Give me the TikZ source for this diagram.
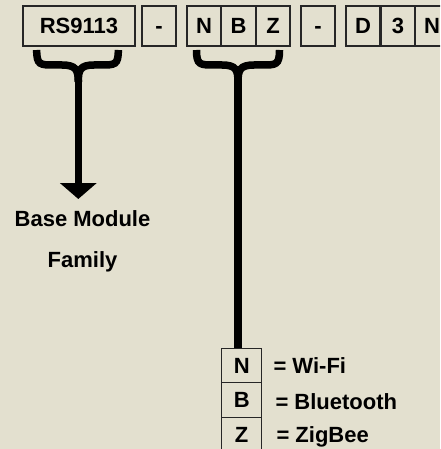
\documentclass[tikz,border=0pt]{standalone}
\usepackage{fontspec}
\setmainfont{Liberation Sans}
\usetikzlibrary{arrows.meta,positioning}
\definecolor{paper}{RGB}{227,224,207}
\tikzset{>={Triangle[width=36pt,length=16pt]},
  cell/.style={draw=black!85,line width=1.3pt,minimum width=34pt,minimum height=40pt,
    inner sep=0pt,text height=15.5pt,text depth=0pt,font=\bfseries\fontsize{22}{26}\selectfont},
  legcell/.style={cell,minimum width=40pt,minimum height=34.5pt},
  legtext/.style={inner sep=0pt,text depth=0pt,font=\bfseries\fontsize{22}{26}\selectfont},
  brace/.style={line width=7.5pt,line cap=butt}}

\begin{document}
\begin{tikzpicture}[x=1pt,y=-1pt]
    \useasboundingbox (0,0) rectangle (440,449);
    \clip (0,0) rectangle (440,449);
    \fill[paper] (0,0) rectangle (440,449);
    % part number
    \node[cell,minimum width=112pt] (rs) at (79,26) {RS9113};
    \node[cell] (dashA) at (159,26) {-};
    \foreach \c/\x in {N/204,B/238.5,Z/273} {
        \node[cell] (top\c) at (\x,26) {\c};
      }
    \node[cell] (dashB) at (318,26) {-};
    \foreach \c/\x/\n in {D/363/opt1,3/398/opt2,N/432/opt3} {
        \node[cell] (\n) at (\x,26) {\c};
      }
    % braces
    \coordinate (forkA) at (78.3,82);
    \coordinate (forkB) at (238,82);
    \draw[brace] (36.7,50) .. controls (36.7,65) and (40,65) .. (54,65) -- (62,65)
      .. controls (76,65) and (78.3,70) .. (forkA);
    \draw[brace] (118.3,50) .. controls (118.3,65) and (115,65) .. (101,65) -- (94,65)
      .. controls (80,65) and (78.3,70) .. (forkA);
    \draw[brace] (196.5,50) .. controls (196.5,65) and (200,65) .. (214,65) -- (222,65)
      .. controls (236,65) and (238,70) .. (forkB);
    \draw[brace] (279.5,50) .. controls (279.5,65) and (276,65) .. (262,65) -- (254,65)
      .. controls (240,65) and (238,70) .. (forkB);
    % base module
    \coordinate (tipA) at (78.3,199);
    \draw[brace,->] (forkA) -- (tipA);
    \node[legtext] (base) at (82.5,218.3) {Base Module};
    \node[legtext,below=25pt of base] (family) {Family};
    % radio legend
    \node[legcell] (legN) at (241.7,365.5) {N};
    \node[legcell] (legB) at (241.7,400) {B};
    \node[legcell] (legZ) at (241.7,434.5) {Z};
    \draw[brace] (forkB) -- (forkB |- legN.north);
    \node[legtext,right=11pt of legN] (wifi) {= Wi-Fi};
    \node[legtext,right=13pt of legB,yshift=-1.5pt] (bt) {= Bluetooth};
    \node[legtext,right=14pt of legZ] (zigbee) {= ZigBee};
  \end{tikzpicture}
\end{document}
